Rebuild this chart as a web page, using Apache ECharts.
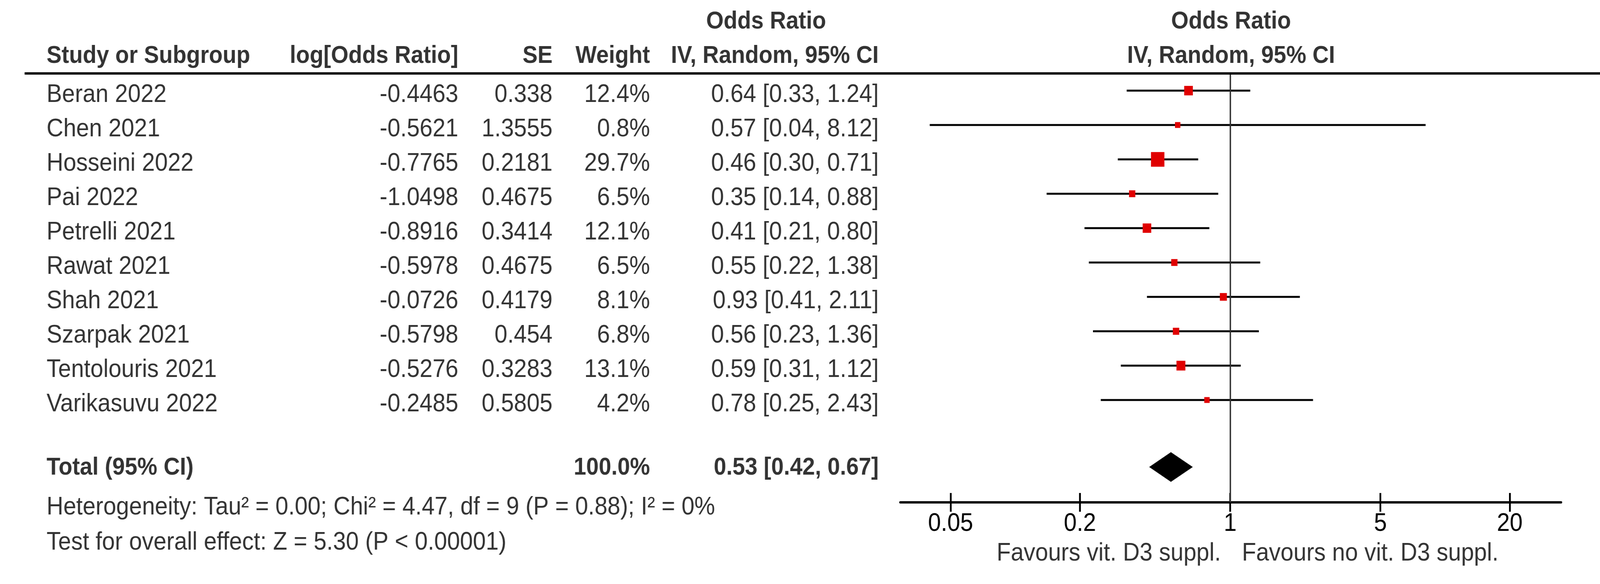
<!DOCTYPE html>
<html>
<head>
<meta charset="utf-8">
<script src="https://cdn.jsdelivr.net/npm/echarts@6/dist/echarts.min.js"></script>
<style>
html,body{margin:0;padding:0;background:#fff;overflow:hidden;}
#chart{position:absolute;left:0;top:0;width:4484px;height:1495px;transform-origin:0 0;}
</style>
</head>
<body>
<div id="chart"></div>
<script>
// ---------------- data ----------------
const studies = ['Beran 2022','Chen 2021','Hosseini 2022','Pai 2022','Petrelli 2021','Rawat 2021','Shah 2021','Szarpak 2021','Tentolouris 2021','Varikasuvu 2022'];
const logOR = [-0.4463,-0.5621,-0.7765,-1.0498,-0.8916,-0.5978,-0.0726,-0.5798,-0.5276,-0.2485];
const seVals = [0.338,1.3555,0.2181,0.4675,0.3414,0.4675,0.4179,0.454,0.3283,0.5805];
const weights = [12.4,0.8,29.7,6.5,12.1,6.5,8.1,6.8,13.1,4.2];
const oddsRatio = [0.64,0.57,0.46,0.35,0.41,0.55,0.93,0.56,0.59,0.78];
const ciLower = [0.33,0.04,0.30,0.14,0.21,0.22,0.41,0.23,0.31,0.25];
const ciUpper = [1.24,8.12,0.71,0.88,0.80,1.38,2.11,1.36,1.12,2.43];
const totalOR = 0.53, totalLower = 0.42, totalUpper = 0.67, totalWeight = 100.0;
const tickValues = [0.05, 0.2, 1, 5, 20];
const headers = ['Study or Subgroup','log[Odds Ratio]','SE','Weight','Odds Ratio','IV, Random, 95% CI'];
const totalLabel = 'Total (95% CI)';
const heterogeneityText = 'Heterogeneity: Tau² = 0.00; Chi² = 4.47, df = 9 (P = 0.88); I² = 0%';
const overallText = 'Test for overall effect: Z = 5.30 (P < 0.00001)';
const favoursLeft = 'Favours vit. D3 suppl.';
const favoursRight = 'Favours no vit. D3 suppl.';

// ---------------- layout (reference pixel units; the page is fitted to the viewport) ----------------
const W = 4484, H = 1495;
const vw = window.innerWidth || W, vh = window.innerHeight || H;
const el = document.getElementById('chart');
el.style.transform = 'scale(' + (vw / W) + ',' + (vh / H) + ')';

const FONT = '"Liberation Sans", Arial, sans-serif';
const REG = 65, BOLD = 63;
const rowPx0 = 232, rowPx = 88;
const toRow = y => (y - rowPx0) / rowPx;
const textShift = 0.125;
const totalRow = 10.95;
const colName = 130, colLog = 1285, colSE = 1549, colW = 1822, colCI = 2463, colORhead = 2147, colPlot = 3450;
const plotLeft = 2523, plotRight = 4375, plotTop = 188, plotBottom = 1286;
const axMin = -1.535, axMax = 1.54;
const log10 = Math.log10;

function txt(x, row, text, align, bold) {
  return {
    value: [x, row],
    label: {
      show: true, formatter: text,
      position: align === 'right' ? 'left' : (align === 'left' ? 'right' : 'inside'),
      distance: 0,
      fontFamily: FONT, fontSize: bold ? BOLD : REG,
      fontWeight: bold ? 'bold' : 'normal', color: '#000'
    }
  };
}

const textData = [];
textData.push(txt(colName, -1, headers[0], 'left', true));
textData.push(txt(colLog, -1, headers[1], 'right', true));
textData.push(txt(colSE, -1, headers[2], 'right', true));
textData.push(txt(colW, -1, headers[3], 'right', true));
textData.push(txt(colORhead, -2, headers[4], 'center', true));
textData.push(txt(colCI, -1, headers[5], 'right', true));
textData.push(txt(colPlot, -2, headers[4], 'center', true));
textData.push(txt(colPlot, -1, headers[5], 'center', true));
studies.forEach((name, i) => {
  const r = i + textShift;
  textData.push(txt(colName, r, name, 'left', false));
  textData.push(txt(colLog, r, String(logOR[i]), 'right', false));
  textData.push(txt(colSE, r, String(seVals[i]), 'right', false));
  textData.push(txt(colW, r, weights[i].toFixed(1) + '%', 'right', false));
  textData.push(txt(colCI, r, oddsRatio[i].toFixed(2) + ' [' + ciLower[i].toFixed(2) + ', ' + ciUpper[i].toFixed(2) + ']', 'right', false));
});
textData.push(txt(colName, totalRow + 0.02, totalLabel, 'left', true));
textData.push(txt(colW, totalRow + 0.02, totalWeight.toFixed(1) + '%', 'right', true));
textData.push(txt(colCI, totalRow + 0.02, totalOR.toFixed(2) + ' [' + totalLower.toFixed(2) + ', ' + totalUpper.toFixed(2) + ']', 'right', true));
textData.push(txt(colName, toRow(1299), heterogeneityText, 'left', false));
textData.push(txt(colName, toRow(1389), overallText, 'left', false));
textData.push(txt(3422, toRow(1417), favoursLeft, 'right', false));
textData.push(txt(3480, toRow(1417), favoursRight, 'left', false));

const ciData = studies.map((name, i) => [
  log10(oddsRatio[i]), i, log10(ciLower[i]), log10(ciUpper[i]),
  Math.max(15, 6.9 * Math.sqrt(weights[i]))
]);
const diamondData = [[log10(totalOR), totalRow, log10(totalLower), log10(totalUpper)]];

const tickLogs = tickValues.map(v => log10(v));
const fmtTick = v => String(Number(Math.pow(10, v).toPrecision(6)));

const chart = echarts.init(el, null, {renderer: 'canvas', width: W, height: H});
chart.setOption({
  animation: false,
  backgroundColor: '#fff',
  grid: [
    {left: plotLeft, right: W - plotRight, top: plotTop, bottom: H - plotBottom, containLabel: false},
    {left: 0, right: 0, top: 0, bottom: 0, containLabel: false}
  ],
  xAxis: [
    {
      gridIndex: 0, type: 'value', min: axMin, max: axMax, position: 'bottom',
      axisLine: {show: true, onZero: false, lineStyle: {color: '#000', width: 6}},
      axisTick: {show: true, inside: false, length: 24, customValues: tickLogs, lineStyle: {color: '#000', width: 5}},
      axisLabel: {show: true, customValues: tickLogs, formatter: fmtTick, margin: 55, verticalAlign: 'middle',
        fontFamily: FONT, fontSize: REG, color: '#000'},
      splitLine: {show: false}
    },
    {
      gridIndex: 0, type: 'value', min: axMin, max: axMax, position: 'bottom',
      axisLine: {show: false, onZero: false},
      axisTick: {show: true, inside: true, length: 24, customValues: tickLogs, lineStyle: {color: '#000', width: 5}},
      axisLabel: {show: false},
      splitLine: {show: false}
    },
    {gridIndex: 1, type: 'value', min: 0, max: W, show: false}
  ],
  yAxis: [
    {gridIndex: 0, type: 'value', inverse: true, min: -0.5, max: toRow(plotBottom), show: false},
    {gridIndex: 1, type: 'value', inverse: true, min: toRow(0), max: toRow(H), show: false}
  ],
  series: [
    {
      type: 'custom', xAxisIndex: 0, yAxisIndex: 0, silent: true, clip: false,
      data: ciData,
      encode: {x: 0, y: 1},
      renderItem: function (params, api) {
        const y = api.value(1);
        const p1 = api.coord([api.value(2), y]);
        const p2 = api.coord([api.value(3), y]);
        const pc = api.coord([api.value(0), y]);
        const sz = api.value(4);
        return {
          type: 'group',
          children: [
            {type: 'line', shape: {x1: p1[0], y1: p1[1], x2: p2[0], y2: p2[1]}, style: {stroke: '#000', lineWidth: 5}},
            {type: 'rect', shape: {x: pc[0] - sz / 2, y: pc[1] - sz / 2, width: sz, height: sz}, style: {fill: '#e00000'}}
          ]
        };
      },
      markLine: {
        silent: true, symbol: 'none', animation: false,
        label: {show: false},
        lineStyle: {color: '#333', width: 4, type: 'solid'},
        data: [{xAxis: 0}]
      },
      z: 3
    },
    {
      type: 'custom', xAxisIndex: 0, yAxisIndex: 0, silent: true, clip: false,
      data: diamondData,
      encode: {x: 0, y: 1},
      renderItem: function (params, api) {
        const y = api.value(1);
        const c = api.coord([api.value(0), y]);
        const l = api.coord([api.value(2), y]);
        const r = api.coord([api.value(3), y]);
        const h = 38;
        return {
          type: 'polygon',
          shape: {points: [[l[0], c[1]], [c[0], c[1] - h], [r[0], c[1]], [c[0], c[1] + h]]},
          style: {fill: '#000'}
        };
      },
      z: 4
    },
    {
      type: 'scatter', xAxisIndex: 2, yAxisIndex: 1, silent: true,
      symbolSize: 1, itemStyle: {color: 'rgba(0,0,0,0)'},
      data: textData,
      markLine: {
        silent: true, symbol: 'none', animation: false,
        label: {show: false},
        lineStyle: {color: '#000', width: 6, type: 'solid'},
        data: [[{coord: [69, -0.5]}, {coord: [4484, -0.5]}]]
      },
      z: 5
    }
  ]
});
</script>
</body>
</html>
